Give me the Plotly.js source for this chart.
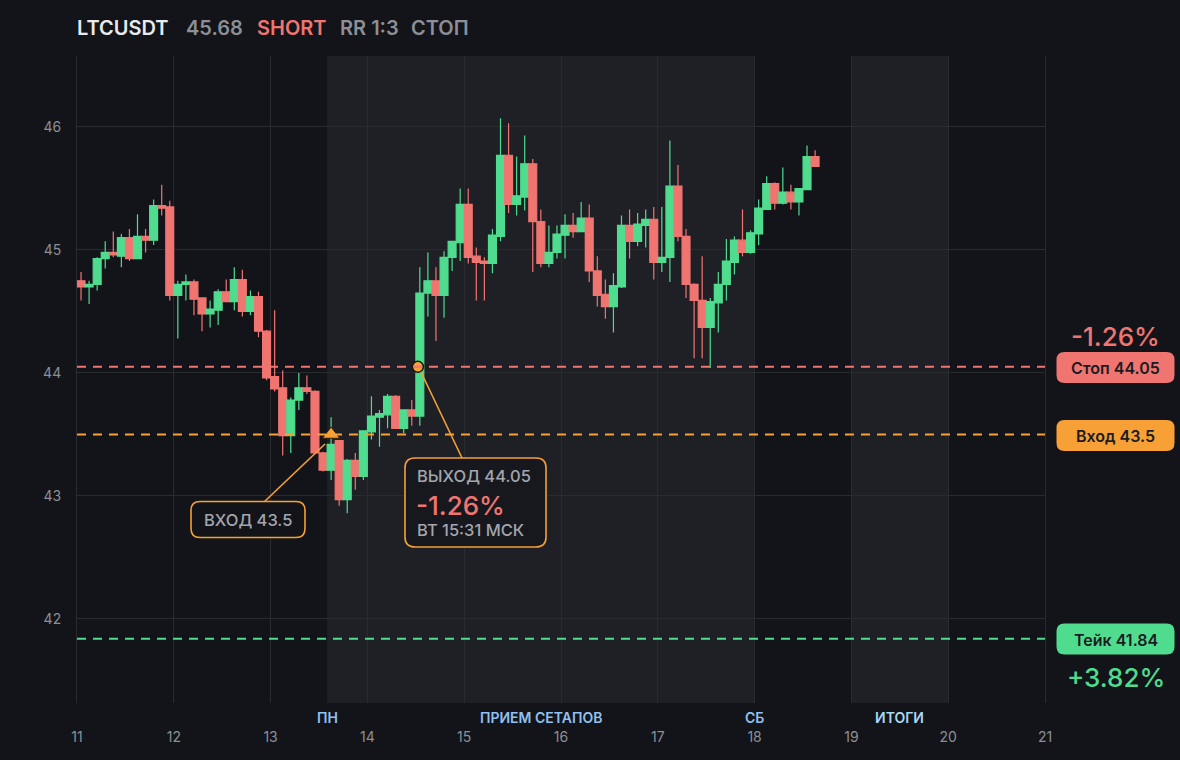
<!DOCTYPE html>
<html>
<head>
<meta charset="utf-8">
<script src="https://cdn.plot.ly/plotly-3.0.1.min.js"></script>
<style>
html,body{margin:0;padding:0;background:#131419;}
#chart{width:1180px;height:760px;}
</style>
</head>
<body>
<div id="chart"></div>
<script>
// ---------- DATA ----------
const symbol = 'LTCUSDT';
const lastPrice = '45.68';
const firstCandle = '2024-05-11T01:00:00Z';
const stepHours = 2;

const open  = [44.75,44.70,44.72,44.93,44.98,44.95,45.10,44.93,45.11,45.08,45.36,45.35,44.63,44.72,44.74,44.61,44.48,44.51,44.66,44.58,
               44.76,44.50,44.62,44.34,43.97,43.88,43.49,43.78,43.88,43.85,43.35,43.21,43.45,42.97,43.29,43.16,43.52,43.64,43.66,43.81,
               43.55,43.70,43.65,44.65,44.75,44.63,44.94,45.06,45.37,44.95,44.91,44.89,45.11,45.77,45.37,45.43,45.70,45.23,44.89,44.98,
               45.12,45.20,45.15,45.26,44.83,44.64,44.54,44.70,45.20,45.07,45.20,45.25,44.90,44.94,45.52,45.11,44.72,44.59,44.37,44.57,
               44.72,44.90,45.08,44.98,45.13,45.33,45.54,45.38,45.47,45.39,45.49,45.76];
const high  = [44.82,44.75,44.94,45.07,45.15,45.13,45.17,45.29,45.17,45.41,45.53,45.40,44.75,44.80,44.76,44.61,44.59,44.68,44.76,44.86,
               44.84,44.67,44.66,44.35,44.51,44.02,43.80,44.00,43.98,43.86,43.36,43.64,43.45,43.30,43.35,43.53,43.81,43.70,43.83,43.82,
               43.70,43.78,44.86,44.98,44.86,44.99,45.07,45.50,45.50,45.02,44.94,45.17,46.07,46.03,45.76,45.93,45.74,45.33,45.20,45.20,
               45.29,45.30,45.39,45.37,44.95,44.76,44.81,45.28,45.33,45.30,45.33,45.35,45.35,45.89,45.69,45.17,44.73,44.95,44.61,44.82,
               45.09,45.11,45.33,45.16,45.41,45.60,45.55,45.67,45.53,45.50,45.85,45.81];
const low   = [44.59,44.56,44.67,44.85,44.94,44.86,44.91,44.93,44.98,45.04,45.28,44.59,44.28,44.59,44.47,44.34,44.37,44.39,44.58,44.51,
               44.46,44.47,44.29,43.94,43.85,43.33,43.35,43.70,43.83,43.35,43.20,43.13,42.92,42.86,43.05,43.13,43.46,43.40,43.55,43.55,
               43.51,43.57,43.57,44.46,44.26,44.45,44.83,44.91,44.89,44.59,44.59,44.81,45.07,45.30,45.28,45.32,44.82,44.86,44.86,44.93,
               44.93,45.10,45.15,44.74,44.54,44.44,44.33,44.69,44.93,45.03,45.02,44.76,44.82,44.74,45.07,44.61,44.12,44.12,44.04,44.33,
               44.59,44.80,44.95,44.97,45.04,45.33,45.33,45.37,45.33,45.28,45.49,45.68];
const close = [44.70,44.72,44.93,44.98,44.96,45.10,44.93,45.11,45.08,45.36,45.34,44.63,44.72,44.74,44.60,44.48,44.52,44.66,44.58,44.76,
               44.50,44.62,44.34,43.96,43.87,43.49,43.78,43.88,43.85,43.35,43.21,43.42,42.97,43.29,43.16,43.53,43.65,43.67,43.81,43.55,
               43.70,43.65,44.65,44.75,44.63,44.94,45.07,45.37,44.94,44.90,44.89,45.12,45.77,45.37,45.44,45.70,45.23,44.89,44.98,45.13,
               45.20,45.15,45.26,44.83,44.63,44.54,44.71,45.20,45.07,45.21,45.25,44.90,44.94,45.52,45.11,44.72,44.59,44.37,44.58,44.72,
               44.91,45.08,44.98,45.14,45.34,45.54,45.38,45.47,45.39,45.50,45.76,45.68];

const dayTicks  = ['2024-05-11','2024-05-12','2024-05-13','2024-05-14','2024-05-15','2024-05-16','2024-05-17','2024-05-18','2024-05-19','2024-05-20','2024-05-21'];
const dayLabels = ['11','12','13','14','15','16','17','18','19','20','21'];

const stopPrice = 44.05, entryPrice = 43.5, takePrice = 41.84;
const entryTime = '2024-05-13 15:00';
const exitTime  = '2024-05-14 12:31';
const stopPct = '-1.26%', takePct = '+3.82%';

const shadeStart = ['2024-05-13 14:00','2024-05-19 00:00'];
const shadeEnd   = ['2024-05-18 00:00','2024-05-20 00:00'];
const sessionLabels = ['ПН','ПРИЕМ СЕТАПОВ','СБ','ИТОГИ'];
const sessionX      = ['2024-05-13 14:00','2024-05-15 19:00','2024-05-18 00:00','2024-05-19 12:00'];
const sessionColors = ['#8fc1f2','#8fc1f2','#8fc1f2','#a7d9f6'];

// ---------- HELPERS ----------
const t0 = Date.parse(firstCandle);
const times = open.map((_, i) => new Date(t0 + i * stepHours * 3600000).toISOString().replace('T',' ').slice(0,16));

const BG = '#131419', SHADE = '#1f2026', GRID = '#2a2b31';
const RED = '#f07570', GREEN = '#4fdc8f', ORANGE = '#f7a035', GREY = '#8c8f97', TXT = '#a3a6ae';

const L = 77, R = 1045, T = 56, B = 703;
const px = x => (x - L) / (R - L);
const py = y => (B - y) / (B - T);

function rr(w, h, r) {
  const x0 = -w/2, x1 = w/2, y0 = -h/2, y1 = h/2;
  return `M ${x0+r},${y0} L ${x1-r},${y0} Q ${x1},${y0} ${x1},${y0+r} L ${x1},${y1-r} Q ${x1},${y1} ${x1-r},${y1} ` +
         `L ${x0+r},${y1} Q ${x0},${y1} ${x0},${y1-r} L ${x0},${y0+r} Q ${x0},${y0} ${x0+r},${y0} Z`;
}
function box(cx, cy, w, h, r, fill, stroke, sw) {
  return {type:'path', xref:'paper', yref:'paper', xsizemode:'pixel', ysizemode:'pixel',
          xanchor: px(cx), yanchor: py(cy), path: rr(w, h, r),
          fillcolor: fill, line:{color: stroke, width: sw}, layer:'above'};
}
function txt(x, y, text, color, size, weight, anchor) {
  return {xref:'paper', yref:'paper', x: px(x), y: py(y), text, showarrow:false,
          xanchor: anchor || 'center', yanchor:'middle', borderpad:0,
          font:{family:'Inter, Roboto, sans-serif', color, size, weight: weight || 500}};
}

// ---------- TRACES ----------
const candles = {
  type:'candlestick', x: times, open, high, low, close,
  increasing:{line:{color:GREEN, width:1.2}, fillcolor:GREEN},
  decreasing:{line:{color:RED, width:1.2}, fillcolor:RED},
  whiskerwidth:0, hoverinfo:'skip', showlegend:false
};
const entryMarker = {
  type:'scatter', mode:'markers', x:[entryTime], y:[entryPrice],
  marker:{symbol:'triangle-up', size:15, color:ORANGE, line:{color:'#2a1c08', width:1}},
  hoverinfo:'skip', showlegend:false
};
const exitMarker = {
  type:'scatter', mode:'markers', x:[exitTime], y:[stopPrice],
  marker:{symbol:'circle', size:11, color:ORANGE, line:{color:'#1a1410', width:1.5}},
  hoverinfo:'skip', showlegend:false
};

// ---------- SHAPES ----------
const shapes = [];
shadeStart.forEach((s, i) => shapes.push({type:'rect', xref:'x', yref:'paper', x0:s, x1:shadeEnd[i], y0:0, y1:1,
  fillcolor:SHADE, line:{width:0}, layer:'below'}));
[[stopPrice, RED],[entryPrice, ORANGE],[takePrice, GREEN]].forEach(([v, c]) =>
  shapes.push({type:'line', xref:'paper', yref:'y', x0:0, x1:1, y0:v, y1:v,
    line:{color:c, width:2, dash:'9px,7px'}, layer:'above'}));
// connector lines
shapes.push({type:'line', xref:'paper', yref:'paper', x0:px(325), y0:py(444), x1:px(264), y1:py(502), line:{color:ORANGE, width:1.6}, layer:'above'});
shapes.push({type:'line', xref:'paper', yref:'paper', x0:px(421), y0:py(372), x1:px(462), y1:py(458), line:{color:ORANGE, width:1.6}, layer:'above'});
// callout boxes
shapes.push(box(248, 519.5, 114, 36, 9, BG, ORANGE, 1.6));
shapes.push(box(475.5, 502.5, 141, 89, 10, '#17181d', ORANGE, 1.6));
// right pills
shapes.push(box(1115.5, 367.5, 118, 31, 8, RED, RED, 0));
shapes.push(box(1115.5, 435.5, 118, 31, 8, ORANGE, ORANGE, 0));
shapes.push(box(1115.5, 639, 118, 31, 8, GREEN, GREEN, 0));

// ---------- ANNOTATIONS ----------
const ann = [];
ann.push(txt(76, 28, symbol, '#e9eaec', 20, 600, 'left'));
ann.push(txt(185, 28, lastPrice, GREY, 20, 600, 'left'));
ann.push(txt(256, 28, 'SHORT', RED, 20, 600, 'left'));
ann.push(txt(339, 28, 'RR 1:3', GREY, 20, 600, 'left'));
ann.push(txt(410, 28, 'СТОП', GREY, 20, 600, 'left'));

ann.push(txt(248, 520, 'ВХОД ' + entryPrice, TXT, 16.5, 500));
ann.push(txt(416, 476, 'ВЫХОД ' + stopPrice, TXT, 16.5, 500, 'left'));
ann.push(txt(415, 505, stopPct, RED, 26, 500, 'left'));
ann.push(txt(416, 530, 'ВТ 15:31 МСК', TXT, 16.5, 500, 'left'));

ann.push(txt(1115.5, 336, stopPct, RED, 26, 500));
ann.push(txt(1115.5, 368, 'Стоп ' + stopPrice, '#1b1c21', 16, 600));
ann.push(txt(1115.5, 436, 'Вход ' + entryPrice, '#1b1c21', 16, 600));
ann.push(txt(1115.5, 639.5, 'Тейк ' + takePrice, '#1b1c21', 16, 600));
ann.push(txt(1115.5, 677, takePct, GREEN, 26, 500));

sessionLabels.forEach((lab, i) => ann.push({xref:'x', yref:'paper', x: sessionX[i], y: py(717), text: lab,
  showarrow:false, xanchor:'center', yanchor:'middle',
  font:{family:'Inter, Roboto, sans-serif', color: sessionColors[i], size:14, weight:600}}));

// ---------- LAYOUT ----------
const layout = {
  width:1180, height:760,
  margin:{l:L, r:1180-R, t:T, b:760-B, pad:0},
  paper_bgcolor:BG, plot_bgcolor:BG,
  showlegend:false, boxgap:0.02, boxgroupgap:0,
  font:{family:'Inter, Roboto, sans-serif', color:GREY},
  xaxis:{type:'date', range:[dayTicks[0], dayTicks[dayTicks.length-1]],
    tickmode:'array', tickvals:dayTicks, ticktext:dayLabels,
    showgrid:true, gridcolor:GRID, gridwidth:1, zeroline:false, showline:false,
    ticks:'', ticklabelstandoff:24, tickfont:{size:14, color:GREY, family:'Inter, Roboto, sans-serif'},
    rangeslider:{visible:false}, fixedrange:true},
  yaxis:{range:[41.317, 46.577], tickvals:[42,43,44,45,46], ticktext:['42','43','44','45','46'],
    showgrid:true, gridcolor:GRID, gridwidth:1, zeroline:false,
    showline:true, linecolor:GRID, linewidth:1, mirror:true,
    ticks:'', ticklabelstandoff:12, tickfont:{size:14, color:GREY, family:'Inter, Roboto, sans-serif'},
    fixedrange:true},
  shapes, annotations: ann,
  hovermode:false
};

Plotly.newPlot('chart', [candles, entryMarker, exitMarker], layout, {staticPlot:true, displayModeBar:false});
</script>
</body>
</html>
